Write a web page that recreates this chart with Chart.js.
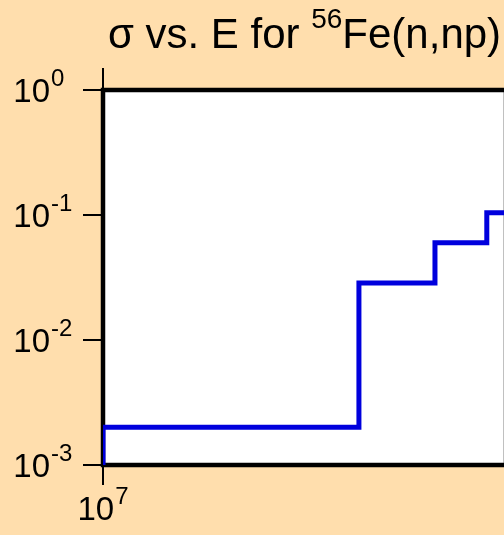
<!DOCTYPE html>
<html>
<head>
<meta charset="utf-8">
<script src="https://cdn.jsdelivr.net/npm/chart.js@4.4.1/dist/chart.umd.min.js"></script>
<style>
  html, body { margin: 0; padding: 0; background: #ffdead; overflow: hidden; }
  #wrap { width: 504px; height: 535px; overflow: hidden; }
</style>
</head>
<body>
<div id="wrap"><canvas id="xs-chart" width="520" height="535"></canvas></div>
<script>
// histogram (step) cross section, value holds from each energy to the next
const energies = [1e7, 1e7, 1.553e7, 1.77e7, 1.935e7, 2e7];
const sigma = [1e-3, 2e-3, 0.0286, 0.06, 0.104, 0.104];

const yTickExps = [0, -1, -2, -3];
const xTickExps = [7];

const FONT = '"Liberation Sans", Arial, sans-serif';

const points = energies.map((e, i) => ({ x: e, y: sigma[i] }));

// white plot box with heavy black frame, drawn under the line
const framePlugin = {
    id: 'frame',
    beforeDatasetsDraw(chart) {
        const a = chart.chartArea;
        const ctx = chart.ctx;
        ctx.save();
        ctx.fillStyle = '#ffffff';
        ctx.fillRect(a.left, a.top, a.right - a.left, a.bottom - a.top);
        ctx.strokeStyle = '#000000';
        ctx.lineWidth = 4.5;
        ctx.strokeRect(a.left, a.top, a.right - a.left, a.bottom - a.top);
        ctx.restore();
    }
};

function drawPower(ctx, exp, x, y, align) {
    // "10" plus raised exponent
    const base = '10';
    const sup = String(exp);
    ctx.font = '33px ' + FONT;
    const wb = ctx.measureText(base).width;
    ctx.font = '24px ' + FONT;
    const ws = ctx.measureText(sup).width;
    let x0;
    if (align === 'center') x0 = x - (wb + ws + 1) / 2;
    else x0 = x - wb; // x is right edge of "10"
    ctx.textAlign = 'left';
    ctx.textBaseline = 'alphabetic';
    ctx.font = '33px ' + FONT;
    ctx.fillText(base, x0, y);
    ctx.font = '24px ' + FONT;
    ctx.fillText(sup, x0 + wb + 1, y - 16);
}

const axesPlugin = {
    id: 'axesText',
    afterDraw(chart) {
        const ctx = chart.ctx;
        const a = chart.chartArea;
        const xs = chart.scales.x;
        const ys = chart.scales.y;
        ctx.save();
        ctx.strokeStyle = '#000000';
        ctx.fillStyle = '#000000';
        ctx.lineWidth = 2;

        yTickExps.forEach(p => {
            const py = Math.round(ys.getPixelForValue(Math.pow(10, p)));
            ctx.beginPath();
            ctx.moveTo(a.left - 20, py);
            ctx.lineTo(a.left, py);
            ctx.stroke();
            drawPower(ctx, p, 50, py + 12, 'right');
        });

        xTickExps.forEach(p => {
            const px = Math.round(xs.getPixelForValue(Math.pow(10, p)));
            ctx.beginPath();
            ctx.moveTo(px, a.bottom);
            ctx.lineTo(px, a.bottom + 20);
            ctx.moveTo(px, a.top);
            ctx.lineTo(px, a.top - 22);
            ctx.stroke();
            drawPower(ctx, p, px, a.bottom + 55, 'center');
        });

        // title with superscript mass number
        const t1 = '\u03c3 vs. E for ';
        const t2 = '56';
        const t3 = 'Fe(n,np)';
        ctx.font = '42px ' + FONT;
        const w1 = ctx.measureText(t1).width;
        const w3 = ctx.measureText(t3).width;
        ctx.font = '28px ' + FONT;
        const w2 = ctx.measureText(t2).width;
        const total = w1 + w2 + w3;
        const cx = (a.left + a.right) / 2;
        let tx = cx - total / 2;
        const ty = 48;
        ctx.textAlign = 'left';
        ctx.textBaseline = 'alphabetic';
        ctx.font = '42px ' + FONT;
        ctx.fillText(t1, tx, ty);
        tx += w1;
        ctx.font = '28px ' + FONT;
        ctx.fillText(t2, tx, ty - 20);
        tx += w2;
        ctx.font = '42px ' + FONT;
        ctx.fillText(t3, tx, ty);
        ctx.restore();
    }
};

new Chart(document.getElementById('xs-chart'), {
    type: 'line',
    data: {
        datasets: [{
            data: points,
            stepped: true,
            borderColor: '#0000dd',
            borderWidth: 5,
            pointRadius: 0,
            fill: false
        }]
    },
    options: {
        responsive: false,
        animation: false,
        layout: { padding: { top: 90, right: 14, left: 0, bottom: 0 } },
        scales: {
            x: {
                type: 'logarithmic',
                min: 1e7,
                max: 2e7,
                ticks: { display: false },
                grid: { display: false },
                border: { display: false },
                afterFit(scale) { scale.height = 70; }
            },
            y: {
                type: 'logarithmic',
                min: 1e-3,
                max: 1,
                ticks: { display: false },
                grid: { display: false },
                border: { display: false },
                afterFit(scale) { scale.width = 103; }
            }
        },
        plugins: {
            legend: { display: false },
            title: { display: false },
            tooltip: { enabled: false }
        }
    },
    plugins: [framePlugin, axesPlugin]
});
</script>
</body>
</html>
